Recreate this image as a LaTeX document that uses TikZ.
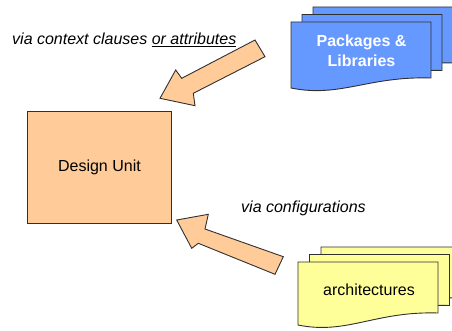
\documentclass[tikz,border=0pt]{standalone}
\usepackage{fontspec}
\setmainfont{Liberation Sans}
\definecolor{peach}{HTML}{FFCC99}
\definecolor{pkgblue}{HTML}{6699FF}
\definecolor{archyellow}{HTML}{FFFF99}
\definecolor{edge}{HTML}{303030}
\tikzset{
  outl/.style={draw=edge, line width=0.9pt, line join=miter},
  blockarrow/.style={outl, fill=peach},
  lbl/.style={inner sep=0pt, font=\fontsize{16}{19.5}\selectfont},
}
% #1 left, #2 top, #3 left height, #4 right height, #5 fill
\newcommand\docpage[5]{%
  \filldraw[outl, fill=#5] (#1,#2) -- ({#1+140},#2) -- ({#1+140},{#2+#4})
    .. controls ({#1+77},{#2+#4-2}) and ({#1+49},{#2+#3+10}) .. (#1,{#2+#3}) -- cycle;}
\begin{document}
\begin{tikzpicture}[x=1pt,y=-1pt]
\clip (0,0) rectangle (452,331);
\fill[white] (0,0) rectangle (452,331);

% Design unit
\node[outl, fill=peach, minimum width=144pt, minimum height=112pt, lbl, anchor=north west] (du) at (27,111) {Design Unit};

% Packages & Libraries stack
\docpage{313}{7}{66}{56}{pkgblue}
\docpage{302}{14.5}{66}{56}{pkgblue}
\docpage{291}{22}{66}{56}{pkgblue}
\node[lbl, text=white, font=\fontsize{16}{19.5}\selectfont\bfseries, align=center] (pkg) at (361.5,51) {Packages \&\\Libraries};

% architectures stack
\docpage{321}{247}{63}{51}{archyellow}
\docpage{309.5}{254.5}{63}{51}{archyellow}
\docpage{298}{262}{63}{51}{archyellow}
\node[lbl] (arch) at (369,290) {architectures};

% labels
\node[lbl, anchor=west, font=\fontsize{16}{19.5}\selectfont\itshape] (ctx) at (12,40) {via context clauses \underline{or attributes}};
\node[lbl, anchor=west, font=\fontsize{16}{19.5}\selectfont\itshape] (cfg) at (241,208) {via configurations};

% block arrows
\filldraw[blockarrow] (160,98.3) -- (175.7,70) -- (181.7,78.3) -- (255,40) -- (265,56.7) -- (193.3,93.3) -- (195,105.7) -- cycle;
\filldraw[blockarrow] (176.7,220) -- (208.3,214.3) -- (205,229) -- (283.3,256.7) -- (275,274.3) -- (198.3,243.3) -- (191.7,248.3) -- cycle;
\end{tikzpicture}
\end{document}
